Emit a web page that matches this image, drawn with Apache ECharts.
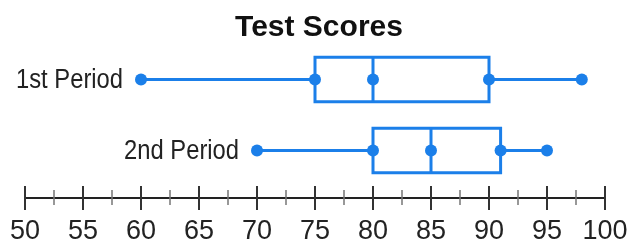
<!DOCTYPE html>
<html>
<head>
<meta charset="utf-8">
<script src="https://cdn.jsdelivr.net/npm/echarts@6/dist/echarts.min.js"></script>
<style>
  html, body { margin: 0; padding: 0; background: #fff; }
  #chart { width: 641px; height: 245px; }
</style>
</head>
<body>
<div id="chart"></div>
<script>
// 数据
var periods = ['1st Period', '2nd Period'];
var minVals = [60, 70];
var q1Vals = [75, 80];
var medVals = [80, 85];
var q3Vals = [90, 91];
var maxVals = [98, 95];

// 刻度
var xMin = 50;
var xMax = 100;
var xStep = 5;

var blue = '#1b7fe9';
var sans = "'Liberation Sans', Arial, sans-serif";

var chart = echarts.init(document.getElementById('chart'));

var seriesData = periods.map(function(p, i) {
	return [i, minVals[i], q1Vals[i], medVals[i], q3Vals[i], maxVals[i]];
});

function renderBox(params, api) {
	var cat = api.value(0);
	var pts = [1, 2, 3, 4, 5].map(function(d) { return api.coord([api.value(d), cat]); });
	var h = api.size([0, 1])[1] * 0.625;
	var y = pts[0][1];
	var lineStyle = { stroke: blue, lineWidth: 3, fill: null };
	var children = [
		{ type: 'line', shape: { x1: pts[0][0], y1: y, x2: pts[1][0], y2: y }, style: lineStyle },
		{ type: 'line', shape: { x1: pts[3][0], y1: y, x2: pts[4][0], y2: y }, style: lineStyle },
		{ type: 'rect', shape: { x: pts[1][0], y: y - h / 2, width: pts[3][0] - pts[1][0], height: h }, style: lineStyle },
		{ type: 'line', shape: { x1: pts[2][0], y1: y - h / 2, x2: pts[2][0], y2: y + h / 2 }, style: lineStyle }
	];
	pts.forEach(function(pt) {
		children.push({ type: 'circle', shape: { cx: pt[0], cy: y, r: 6 }, style: { fill: blue } });
	});
	// 标签放在最小值左边（横向压缩，模仿窄体字）
	children.push({
		type: 'text',
		x: pts[0][0] - 18,
		y: y + 1,
		scaleX: 0.88,
		style: {
			text: periods[params.dataIndex],
			align: 'right',
			verticalAlign: 'middle',
			fill: '#222',
			font: '27px ' + sans
		}
	});
	return { type: 'group', children: children };
}

var xAxisBase = {
	type: 'value',
	min: xMin,
	max: xMax,
	interval: xStep,
	position: 'bottom',
	offset: 12,
	splitLine: { show: false },
	axisLine: { show: true, lineStyle: { color: '#222', width: 2 } }
};

var option = {
	animation: false,
	title: {
		text: 'Test Scores',
		left: 314,
		textAlign: 'center',
		top: 8,
		textStyle: { fontFamily: sans, fontWeight: 'bold', fontSize: 30, color: '#111' }
	},
	grid: { left: 25, right: 36, top: 44, bottom: 57 },
	xAxis: [
		Object.assign({}, xAxisBase, {
			axisTick: { show: true, inside: false, length: 12, lineStyle: { color: '#333', width: 2 } },
			minorTick: { show: true, splitNumber: 2, length: 7, lineStyle: { color: '#777', width: 1.5 } },
			axisLabel: { show: true, margin: 20, fontSize: 27, color: '#222', fontFamily: sans }
		}),
		Object.assign({}, xAxisBase, {
			axisTick: { show: true, inside: true, length: 12, lineStyle: { color: '#333', width: 2 } },
			minorTick: { show: true, splitNumber: 2, length: 8, lineStyle: { color: '#777', width: 1.5 } },
			axisLabel: { show: false }
		})
	],
	yAxis: {
		type: 'category',
		data: periods,
		inverse: true,
		show: false
	},
	series: [{
		type: 'custom',
		renderItem: renderBox,
		encode: { x: [1, 2, 3, 4, 5], y: 0 },
		data: seriesData
	}]
};

chart.setOption(option);
</script>
</body>
</html>
